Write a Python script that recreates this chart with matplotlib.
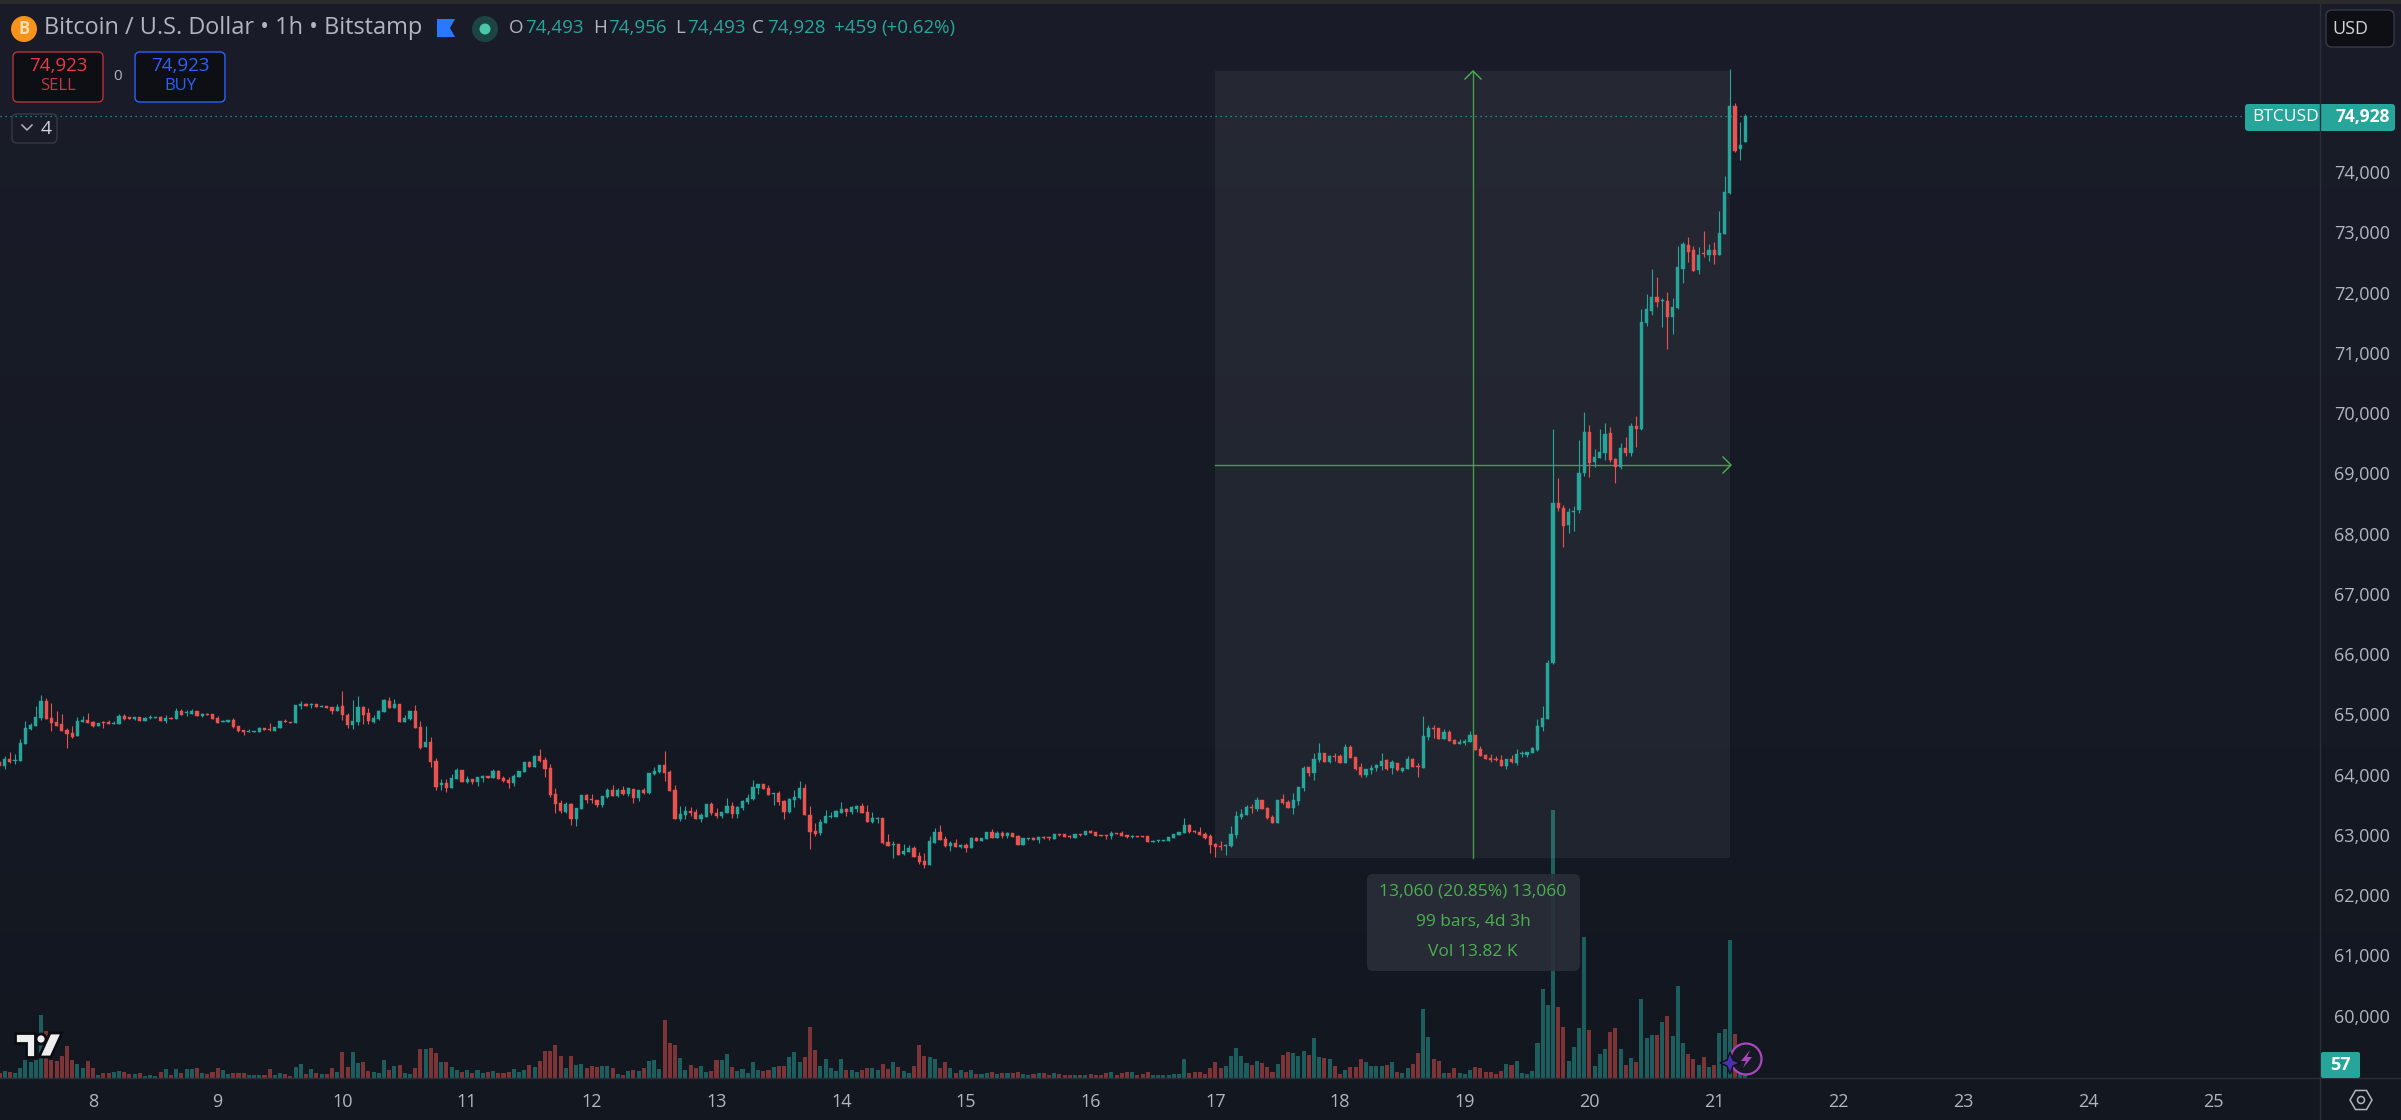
import numpy as np
import matplotlib
matplotlib.use('Agg')
import matplotlib.pyplot as plt
from matplotlib.patches import Rectangle, FancyBboxPatch, Circle, Ellipse, Polygon

plt.rcParams['font.family'] = ['Open Sans', 'DejaVu Sans']

# hourly BTCUSD candles
opens = [
    64209, 64143, 64259, 64231, 64226, 64508, 64757, 64807, 64934, 65222,
    64940, 64873, 64840, 64746, 64685, 64641, 64873, 64906, 64879, 64807,
    64873, 64873, 64840, 64840, 64973, 64950, 64923, 64956, 64890, 64934,
    64945, 64956, 64890, 64945, 64923, 65056, 65022, 65006, 65056, 64973,
    65011, 65006, 64940, 64873, 64873, 64906, 64807, 64740, 64707, 64707,
    64707, 64773, 64762, 64724, 64773, 64890, 64873, 64857, 65139, 65177,
    65161, 65172, 65127, 65139, 65122, 65056, 65139, 64989, 64823, 64873,
    65122, 65022, 64873, 64923, 65039, 65222, 65105, 65172, 64873, 64923,
    65056, 64790, 64458, 64541, 64226, 63827, 63861, 63778, 63927, 64076,
    63877, 63927, 63877, 63944, 63982, 63944, 64060, 63944, 63910, 63861,
    63960, 64043, 64209, 64126, 64309, 64242, 64110, 63678, 63529, 63379,
    63512, 63263, 63429, 63662, 63595, 63579, 63495, 63628, 63744, 63645,
    63744, 63678, 63761, 63612, 63744, 63695, 64010, 64043, 64159, 64043,
    63744, 63263, 63330, 63396, 63379, 63263, 63296, 63512, 63363, 63313,
    63363, 63479, 63346, 63446, 63545, 63595, 63778, 63844, 63778, 63678,
    63695, 63562, 63379, 63579, 63612, 63778, 63330, 63064, 63031, 63197,
    63296, 63296, 63363, 63429, 63379, 63429, 63479, 63379, 63213, 63263,
    63280, 62881, 62837, 62848, 62682, 62716, 62782, 62649, 62566, 62500,
    62865, 63047, 62931, 62815, 62865, 62798, 62832, 62782, 62948, 62898,
    62931, 63047, 62948, 63031, 62981, 63031, 62981, 62832, 62931, 62948,
    62915, 62965, 62959, 62931, 63014, 63014, 62981, 62948, 63014, 62998,
    63064, 63047, 62998, 62998, 62981, 63031, 63031, 62998, 62965, 62981,
    62981, 62981, 62882, 62898, 62898, 62898, 62948, 62998, 63031, 63164,
    63064, 63047, 63014, 62981, 62848, 62815, 62815, 62815, 63000, 63302,
    63330, 63462, 63429, 63579, 63451, 63296, 63197, 63595, 63545, 63446,
    63562, 63778, 64126, 64027, 64242, 64359, 64209, 64309, 64309, 64193,
    64458, 64292, 64126, 63994, 64076, 64110, 64143, 64242, 64110, 64193,
    64060, 64093, 64259, 64143, 64110, 64624, 64774, 64774, 64591, 64707,
    64574, 64508, 64525, 64541, 64657, 64425, 64325, 64276, 64259, 64242,
    64143, 64259, 64193, 64336, 64325, 64359, 64408, 64790, 64923, 65852,
    68507, 68424, 68142, 68364, 68391, 68999, 69685, 69187, 69254, 69337,
    69669, 69237, 69104, 69420, 69337, 69785, 69735, 71494, 71693, 71926,
    71865, 71859, 71594, 71743, 72390, 72789, 72706, 72374, 72656, 72623,
    72706, 72623, 72971, 73652, 75095, 74382, 74493]
highs = [
    64242, 64309, 64375, 64342, 64591, 64890, 64851, 65139, 65321, 65277,
    65194, 65056, 65006, 64768, 64807, 64950, 64973, 65028, 64895, 64857,
    64895, 64906, 64895, 65006, 65006, 64962, 64956, 64956, 64950, 64989,
    64956, 64973, 64989, 64962, 65105, 65089, 65072, 65089, 65056, 65022,
    65022, 65006, 64973, 64906, 64906, 64940, 64807, 64740, 64757, 64729,
    64790, 64773, 64857, 64790, 64890, 64923, 64873, 65155, 65222, 65188,
    65188, 65172, 65155, 65139, 65122, 65172, 65388, 65022, 65238, 65305,
    65139, 65105, 64989, 65072, 65255, 65288, 65255, 65172, 64989, 65056,
    65155, 64890, 64807, 64624, 64276, 63927, 63927, 64010, 64110, 64076,
    63977, 63927, 63960, 63993, 63982, 64093, 64076, 63977, 63960, 64010,
    64060, 64209, 64226, 64325, 64425, 64292, 64176, 63778, 63579, 63545,
    63529, 63446, 63662, 63678, 63678, 63579, 63645, 63778, 63827, 63778,
    63811, 63778, 63761, 63744, 63778, 64027, 64126, 64159, 64392, 64076,
    63822, 63479, 63479, 63462, 63429, 63363, 63512, 63545, 63446, 63379,
    63612, 63545, 63479, 63579, 63678, 63910, 63844, 63844, 63827, 63695,
    63728, 63579, 63612, 63744, 63894, 63844, 63479, 63197, 63263, 63413,
    63379, 63413, 63545, 63446, 63473, 63495, 63529, 63495, 63379, 63296,
    63280, 63014, 62898, 62848, 62848, 62832, 62815, 62716, 62699, 62981,
    63114, 63164, 62981, 62898, 62931, 62848, 62865, 62965, 62965, 62942,
    63047, 63097, 63064, 63064, 63047, 63031, 62998, 62948, 62948, 62965,
    62965, 62981, 62959, 63014, 63014, 63014, 62998, 63014, 63014, 63059,
    63081, 63047, 62998, 62998, 63064, 63031, 63064, 62998, 62998, 62981,
    62981, 62981, 62909, 62909, 62915, 62965, 63014, 63047, 63280, 63180,
    63081, 63130, 63047, 63014, 62865, 62898, 62843, 63147, 63390, 63429,
    63495, 63512, 63628, 63579, 63462, 63330, 63579, 63678, 63579, 63695,
    63794, 64143, 64126, 64359, 64525, 64359, 64325, 64359, 64336, 64508,
    64492, 64292, 64193, 64093, 64160, 64176, 64359, 64259, 64242, 64193,
    64126, 64309, 64276, 64193, 64973, 64823, 64823, 64774, 64757, 64740,
    64591, 64591, 64591, 64724, 64657, 64475, 64342, 64342, 64309, 64325,
    64259, 64325, 64425, 64392, 64375, 64458, 64923, 65139, 65902, 69735,
    68922, 68474, 68419, 68458, 69552, 70017, 69801, 69403, 69735, 69835,
    69768, 69254, 69503, 69603, 69835, 69951, 71727, 71976, 72390, 72258,
    71909, 72009, 71909, 72772, 72838, 72922, 72772, 72756, 73021, 72805,
    72838, 73353, 73934, 75710, 75145, 74830, 74956]
lows = [
    64104, 64099, 64187, 64176, 64226, 64508, 64740, 64807, 64906, 64923,
    64724, 64807, 64724, 64442, 64608, 64641, 64873, 64857, 64790, 64807,
    64773, 64840, 64840, 64840, 64906, 64917, 64906, 64890, 64890, 64917,
    64945, 64884, 64857, 64923, 64923, 64989, 64973, 65006, 64973, 64956,
    64989, 64923, 64857, 64873, 64873, 64773, 64707, 64657, 64707, 64707,
    64707, 64740, 64724, 64724, 64773, 64873, 64857, 64857, 65089, 65139,
    65105, 65122, 65127, 65105, 65006, 65056, 64906, 64773, 64757, 64823,
    64840, 64840, 64857, 64906, 65039, 65105, 65105, 64873, 64873, 64906,
    64773, 64425, 64458, 64126, 63744, 63744, 63711, 63778, 63927, 63877,
    63861, 63844, 63811, 63877, 63944, 63944, 63927, 63877, 63778, 63811,
    63960, 64043, 64126, 64126, 64209, 63960, 63628, 63363, 63363, 63363,
    63164, 63147, 63429, 63529, 63529, 63462, 63462, 63612, 63645, 63628,
    63662, 63645, 63529, 63562, 63678, 63678, 63993, 64027, 63894, 63728,
    63263, 63230, 63263, 63313, 63263, 63213, 63296, 63330, 63280, 63280,
    63363, 63280, 63280, 63413, 63512, 63579, 63678, 63761, 63662, 63495,
    63495, 63263, 63363, 63462, 63595, 63330, 62765, 62981, 62998, 63197,
    63280, 63296, 63363, 63313, 63346, 63379, 63363, 63213, 63197, 63197,
    62848, 62815, 62616, 62666, 62666, 62716, 62633, 62517, 62450, 62500,
    62865, 62915, 62798, 62732, 62798, 62782, 62716, 62782, 62898, 62898,
    62931, 62948, 62948, 62948, 62948, 62965, 62832, 62832, 62915, 62915,
    62865, 62931, 62915, 62931, 62981, 62965, 62948, 62948, 62981, 62998,
    63031, 62981, 62987, 62931, 62931, 63014, 62981, 62948, 62948, 62970,
    62970, 62882, 62882, 62882, 62898, 62898, 62948, 62998, 63031, 63031,
    63031, 62998, 62931, 62694, 62638, 62749, 62666, 62804, 62948, 63269,
    63330, 63368, 63396, 63429, 63263, 63197, 63197, 63512, 63446, 63346,
    63496, 63728, 63977, 63910, 64209, 64209, 64193, 64226, 64193, 64193,
    64276, 64076, 63960, 63960, 64010, 64060, 64076, 64076, 64010, 64060,
    64043, 64093, 64126, 63960, 64110, 64574, 64608, 64591, 64591, 64558,
    64508, 64508, 64492, 64541, 64408, 64309, 64259, 64209, 64226, 64143,
    64093, 64193, 64160, 64292, 64292, 64359, 64392, 64724, 64923, 65835,
    68375, 67777, 68010, 68043, 68341, 68955, 68944, 69104, 69254, 69221,
    69187, 68839, 69071, 69287, 69287, 69437, 69718, 71444, 71627, 71760,
    71428, 71063, 71312, 71727, 72158, 72507, 72357, 72308, 72590, 72523,
    72473, 72623, 72971, 73635, 74332, 74199, 74493]
closes = [
    64143, 64259, 64215, 64242, 64525, 64773, 64823, 64962, 65222, 64923,
    64857, 64807, 64724, 64679, 64624, 64890, 64906, 64857, 64807, 64857,
    64851, 64840, 64862, 64973, 64923, 64928, 64956, 64890, 64940, 64950,
    64956, 64890, 64934, 64923, 65056, 64989, 65033, 65056, 64973, 65011,
    64989, 64923, 64857, 64895, 64906, 64785, 64724, 64707, 64718, 64718,
    64773, 64740, 64740, 64790, 64890, 64873, 64857, 65155, 65172, 65139,
    65172, 65122, 65144, 65105, 65056, 65122, 64989, 64823, 64890, 65122,
    64989, 64890, 64940, 65056, 65238, 65105, 65172, 64873, 64940, 65056,
    64773, 64442, 64541, 64215, 63794, 63861, 63778, 63944, 64076, 63877,
    63927, 63877, 63960, 63977, 63944, 64060, 63927, 63894, 63861, 63977,
    64060, 64209, 64126, 64309, 64226, 64093, 63662, 63512, 63396, 63512,
    63263, 63446, 63662, 63579, 63579, 63495, 63645, 63744, 63645, 63744,
    63678, 63778, 63612, 63744, 63695, 64027, 64060, 64159, 64027, 63728,
    63263, 63346, 63396, 63363, 63263, 63330, 63512, 63363, 63313, 63379,
    63479, 63346, 63462, 63562, 63612, 63794, 63844, 63761, 63662, 63695,
    63545, 63379, 63595, 63628, 63778, 63330, 63047, 63014, 63213, 63313,
    63313, 63396, 63429, 63379, 63457, 63479, 63363, 63213, 63280, 63280,
    62865, 62815, 62848, 62666, 62732, 62782, 62633, 62550, 62500, 62898,
    63047, 62915, 62815, 62865, 62798, 62832, 62782, 62948, 62898, 62942,
    63047, 62948, 63031, 62981, 63031, 62965, 62832, 62948, 62942, 62915,
    62965, 62948, 62948, 63014, 62998, 62965, 62965, 63014, 62998, 63059,
    63031, 62981, 62987, 62981, 63031, 63014, 62981, 62965, 62981, 62970,
    62970, 62882, 62898, 62909, 62915, 62965, 63014, 63047, 63164, 63047,
    63047, 62998, 62948, 62832, 62798, 62804, 62832, 63014, 63313, 63346,
    63462, 63440, 63579, 63429, 63274, 63197, 63579, 63529, 63446, 63579,
    63794, 64110, 64027, 64259, 64359, 64209, 64309, 64292, 64193, 64458,
    64276, 64093, 63994, 64093, 64110, 64160, 64226, 64093, 64209, 64076,
    64110, 64259, 64126, 64132, 64641, 64774, 64763, 64591, 64707, 64558,
    64508, 64541, 64558, 64657, 64408, 64309, 64259, 64242, 64237, 64143,
    64259, 64209, 64342, 64353, 64375, 64442, 64807, 64940, 65852, 68507,
    68424, 68126, 68358, 68375, 69005, 69685, 69171, 69270, 69353, 69652,
    69221, 69104, 69420, 69337, 69785, 69735, 71511, 71727, 71926, 71843,
    71876, 71594, 71760, 72424, 72805, 72673, 72357, 72623, 72645, 72706,
    72623, 72988, 73668, 75095, 74349, 74448, 74928]
volumes = [
    25, 37, 30, 27, 52, 92, 82, 92, 317, 233,
    92, 87, 112, 162, 92, 72, 52, 87, 52, 13,
    27, 23, 30, 37, 32, 22, 22, 27, 10, 17,
    12, 32, 47, 17, 47, 27, 47, 47, 52, 27,
    22, 32, 52, 42, 22, 27, 27, 27, 17, 17,
    17, 17, 47, 17, 27, 22, 12, 57, 72, 22,
    47, 27, 22, 22, 52, 32, 132, 57, 132, 77,
    82, 37, 32, 27, 92, 42, 62, 67, 27, 22,
    52, 147, 147, 152, 127, 82, 82, 57, 42, 32,
    42, 27, 42, 27, 32, 37, 27, 27, 32, 47,
    32, 42, 67, 57, 87, 137, 137, 167, 112, 52,
    112, 67, 72, 52, 62, 57, 62, 62, 52, 22,
    17, 37, 42, 37, 52, 87, 92, 47, 292, 177,
    167, 102, 42, 67, 52, 62, 32, 37, 92, 92,
    122, 57, 37, 47, 27, 82, 42, 37, 42, 57,
    62, 62, 107, 132, 82, 107, 257, 142, 62, 97,
    52, 37, 97, 42, 42, 32, 42, 52, 52, 42,
    72, 47, 82, 57, 37, 27, 62, 167, 112, 107,
    97, 52, 82, 52, 27, 42, 32, 42, 22, 22,
    27, 32, 22,
    23, 23, 25, 30, 22, 15, 18, 23, 23, 15,
    25, 20, 17, 15, 15, 15, 15, 18, 17, 17,
    23, 30, 13, 23, 30, 30, 17, 20, 28, 15,
    15, 15, 15, 18, 20, 95, 23, 28, 32, 20,
    48, 80, 48, 58, 110, 150, 110, 75, 65, 85,
    75, 55, 30, 70, 115, 130, 125, 110, 135, 115,
    200, 105, 100, 95, 60, 20, 40, 55, 55, 95,
    80, 60, 60, 60, 65, 80, 30, 25, 50, 70,
    125, 345, 205, 95, 85, 25, 25, 50, 25, 20,
    40, 55, 50, 30, 30, 20, 35, 70, 65, 85,
    25, 20, 35, 175, 445, 365, 1340, 355, 255, 85,
    155, 250, 705, 240, 60, 120, 145, 230, 250, 145,
    65, 100, 80, 395, 200, 215, 215, 280, 310, 210,
    460, 175, 120, 95, 65, 105, 55, 65, 225, 245,
    690, 220, 73, 57]

day_labels = ['8', '9', '10', '11', '12', '13', '14', '15', '16', '17', '18',
              '19', '20', '21', '22', '23', '24', '25']
price_ticks = [60000, 61000, 62000, 63000, 64000, 65000, 66000, 67000, 68000,
               69000, 70000, 71000, 72000, 73000, 74000]
measure_low = 62620
measure_high = 75680
measure_start = 216
measure_end = 315
last_price = 74928

UP = '#26a69a'
DOWN = '#e9524f'
TXT = '#b2b5be'
GREEN = '#4caf50'
LINE = '#2a2e39'

W, H = 2401, 1120
fig = plt.figure(figsize=(W / 100, H / 100), dpi=100, facecolor='#131822')

# background gradient
bg = fig.add_axes([0, 0, 1, 1], zorder=0)
top_col = np.array([0x1a, 0x1d, 0x29]) / 255
bot_col = np.array([0x12, 0x17, 0x20]) / 255
grad = np.linspace(0, 1, 256)[:, None, None] * (bot_col - top_col) + top_col
bg.imshow(grad, aspect='auto', extent=[0, 1, 0, 1])
bg.axis('off')

pane = [0, (H - 1078) / H, 2320 / W, (1078 - 4) / H]
xlim = (-17.9, 428.6)

# volume pane shares the price pane rectangle
vax = fig.add_axes(pane, zorder=1)
vax.patch.set_alpha(0)
vax.axis('off')
vax.set_xlim(*xlim)
vax.set_ylim(0, 5370)

ax = fig.add_axes(pane, zorder=2)
ax.patch.set_alpha(0)
ax.set_xlim(*xlim)
ax.set_ylim(58965, 76788)
for s in ax.spines.values():
    s.set_visible(False)

o = np.array(opens)
h = np.array(highs)
l = np.array(lows)
c = np.array(closes)
hours = np.arange(len(o)) - 18
cols = np.where(c >= o, UP, DOWN)

vax.bar(hours, volumes, width=0.78, color=cols, alpha=0.5, linewidth=0)

ax.add_patch(Rectangle((measure_start, measure_low), measure_end - measure_start,
                       measure_high - measure_low, facecolor='white', alpha=0.055,
                       linewidth=0, zorder=1))
mid_x = (measure_start + measure_end) / 2
mid_y = 69140
ax.plot([mid_x, mid_x], [measure_low, measure_high], color=GREEN, lw=1.0, alpha=0.85, zorder=2)
ax.plot([measure_start, measure_end], [mid_y, mid_y], color=GREEN, lw=1.0, alpha=0.85, zorder=2)

ax.axhline(last_price, color=UP, lw=0.9, dashes=(1, 3), zorder=2)
ax.vlines(hours, l, h, colors=cols, linewidth=0.8, zorder=3)
ax.bar(hours, np.abs(c - o), bottom=np.minimum(o, c), width=0.62, color=cols,
       edgecolor=cols, linewidth=0.3, zorder=4)

ax.set_xticks(np.arange(len(day_labels)) * 24)
ax.set_xticklabels(day_labels)
ax.yaxis.tick_right()
ax.set_yticks(price_ticks)
ax.set_yticklabels([f'{p:,}' for p in price_ticks])
ax.tick_params(axis='x', length=0, colors=TXT, labelsize=13, pad=11)
ax.tick_params(axis='y', length=0, colors=TXT, labelsize=13, pad=10)

# page furniture is placed in pixels on an overlay
ui = fig.add_axes([0, 0, 1, 1], zorder=5)
ui.patch.set_alpha(0)
ui.set_xlim(0, W)
ui.set_ylim(H, 0)
ui.axis('off')


def box(x0, y0, x1, y1, face, edge='none', r=5, lw=1.0, alpha=1.0, z=3):
    p = FancyBboxPatch((x0 + r, y0 + r), x1 - x0 - 2 * r, y1 - y0 - 2 * r,
                       boxstyle=f'round,pad={r},rounding_size={r}', facecolor=face,
                       edgecolor=edge, linewidth=lw, alpha=alpha, zorder=z)
    ui.add_patch(p)


def txt(x, y, s, color=TXT, size=13, ha='left', weight='normal', z=5):
    ui.text(x, y, s, color=color, fontsize=size, ha=ha, va='center', fontweight=weight, zorder=z)


ui.add_patch(Rectangle((0, 0), W, 4, facecolor='#2b2b2b', linewidth=0))
ui.plot([2320, 2320], [4, H], color=LINE, lw=1.0)
ui.plot([0, W], [1078, 1078], color=LINE, lw=1.0)

# header line
ui.add_patch(Circle((24, 29), 13, facecolor='#f7931a', linewidth=0))
txt(24, 29, 'B', color='#ffe0b0', size=12, ha='center', weight='bold')
txt(44, 28, 'Bitcoin / U.S. Dollar • 1h • Bitstamp', size=16.9)
ui.add_patch(Polygon([(437, 19), (455, 19), (450, 28), (455, 37), (437, 37)], facecolor='#2979ff', linewidth=0))
ui.add_patch(Circle((485, 29), 13, facecolor='#1b4443', linewidth=0))
ui.add_patch(Circle((485, 29), 5.5, facecolor='#4dc6a8', linewidth=0))
for x, lab in [(509, 'O'), (593, 'H'), (675, 'L'), (752, 'C')]:
    txt(x, 28, lab, size=13.5)
for x, val in [(525, '74,493'), (608, '74,956'), (687, '74,493'), (767, '74,928'),
               (834, '+459'), (881, '(+0.62%)')]:
    txt(x, 28, val, color=UP, size=13.5)

# sell / buy buttons
box(13, 52, 103, 102, '#0e0f14', edge='#b5323c')
box(135, 52, 225, 102, '#0e0f14', edge='#2962ff')
txt(58, 66, '74,923', color='#f23645', size=13.5, ha='center', weight='medium')
txt(58, 86, 'SELL', color='#c23a44', size=12, ha='center')
txt(180, 66, '74,923', color='#2962ff', size=13.5, ha='center', weight='medium')
txt(180, 86, 'BUY', color='#2962ff', size=12, ha='center')
txt(118, 77, '0', size=11, ha='center')
box(12, 114, 57, 143, 'none', edge='#363a45')
ui.plot([22, 27, 32], [125, 130, 125], color=TXT, lw=1.1)
txt(46, 129, '4', color='#d1d4dc', size=14, ha='center')

# right side labels
box(2326, 10, 2394, 47, '#0e0f14', edge='#363a45', r=6)
txt(2332, 29, 'USD', color='#d1d4dc', size=13)
ui.plot([2380, 2384, 2388], [27, 31, 27], color='#d1d4dc', lw=1.1)
box(2245, 104, 2395, 131, UP, r=3)
ui.plot([2320, 2320], [104, 131], color=LINE, lw=1.0, zorder=4)
txt(2252, 117, 'BTCUSD', color='white', size=12.5)
txt(2335, 117, f'{last_price:,}', color='white', size=12.5, weight='bold')
box(2321, 1052, 2360, 1078, UP, r=2)
txt(2340, 1065, '57', color='white', size=13, ha='center', weight='bold')

# settings hexagon
ang = np.radians(np.arange(0, 360, 60))
ui.add_patch(Polygon(np.c_[2361 + 11 * np.cos(ang), 1100 + 11 * np.sin(ang)], closed=True,
                     fill=False, edgecolor=TXT, linewidth=1.1))
ui.add_patch(Circle((2361, 1100), 3.5, fill=False, edgecolor=TXT, linewidth=1.1))

# measure arrows
ui.plot([1465, 1473, 1481], [79, 71, 79], color=GREEN, lw=1.0)
ui.plot([1723, 1731, 1723], [457, 465, 473], color=GREEN, lw=1.0)

# measure tooltip
box(1367, 874, 1580, 971, '#2a2e39', r=6, alpha=0.88)
txt(1473, 892, '13,060 (20.85%) 13,060', color=GREEN, size=12.5, ha='center')
txt(1473, 922, '99 bars, 4d 3h', color=GREEN, size=12.5, ha='center')
txt(1473, 952, 'Vol 13.82 K', color=GREEN, size=12.5, ha='center')

# TV logo
logo = dict(facecolor='#eeeeee', edgecolor='#0b0d12', linewidth=2.0, zorder=6)
ui.add_patch(Polygon([(15, 1033), (35, 1033), (35, 1057), (26, 1057), (26, 1043), (15, 1043)], **logo))
ui.add_patch(Circle((41, 1039), 5, **logo))
ui.add_patch(Polygon([(50, 1033), (62, 1033), (51, 1057), (39, 1057)], **logo))

# flash icon by the last bar
ui.add_patch(Ellipse((1746, 1059), 31, 31, facecolor='#161a24', edgecolor='#ab47bc', linewidth=1.6, zorder=6))
ui.add_patch(Polygon([(1750, 1050), (1741, 1061), (1746, 1061), (1743, 1068), (1752, 1057), (1747, 1057)],
                     facecolor='#ab47bc', linewidth=0, zorder=7))
ui.add_patch(Polygon([(1730, 1052), (1733, 1060), (1740, 1063), (1733, 1066), (1730, 1074),
                      (1727, 1066), (1720, 1063), (1727, 1060)], facecolor='#4a2fb0',
                     edgecolor='#0e1018', linewidth=1.0, zorder=7))

fig.savefig('out.png', dpi=100, facecolor=fig.get_facecolor())
